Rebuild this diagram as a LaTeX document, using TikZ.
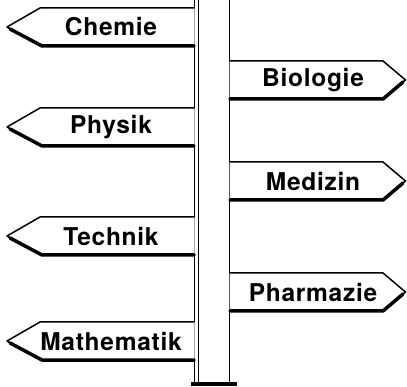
\documentclass[tikz,border=0pt]{standalone}
\usepackage{fontspec}
\newfontfamily\signfont[LetterSpace=3]{TeX Gyre Heros}
\usepackage{tikz}
\usetikzlibrary{positioning,calc}

\tikzset{
    signline/.style={line width=1.5pt, line join=round},
    shadowline/.style={line width=3.5pt, line cap=round},
    signtext/.style={font=\signfont\bfseries\fontsize{24.5}{24.5}\selectfont, inner sep=0pt}
}

\begin{document}
\begin{tikzpicture}[x=1pt, y=-1pt]
    \useasboundingbox (0,0) rectangle (407,387);

    % Pole
    \draw [signline] (194.5,-2) -- (194.5,383);
    \draw [signline] (198.5,-2) -- (198.5,383);
    \draw [signline] (229.5,-2) -- (229.5,383);
    \draw [line width=4pt] (191,383.5) -- (237,383.5);

    % Left signs
    \foreach \y/\label in {27/Chemie, 127/Physik, 236/Technik, 341/Mathematik}{
        \draw [signline, fill=white] (194.5,\y-19) -- (40,\y-19) -- (7,\y) -- (42,\y+19) -- (194.5,\y+19);
        \draw [shadowline] (10,\y+2) -- (42,\y+19) -- (194,\y+19);
        \node [signtext] (\label) at (111,\y) {\label};
    }

    % Right signs
    \foreach \y/\label in {80/Biologie, 181/Medizin, 292/Pharmazie}{
        \draw [signline, fill=white] (229.5,\y-19) -- (383,\y-19) -- (405.5,\y) -- (383,\y+19) -- (229.5,\y+19);
        \draw [shadowline] (230,\y+19) -- (383,\y+19) -- (403,\y+2);
        \node [signtext] (\label) at (313,\y) {\label};
    }
\end{tikzpicture}
\end{document}
